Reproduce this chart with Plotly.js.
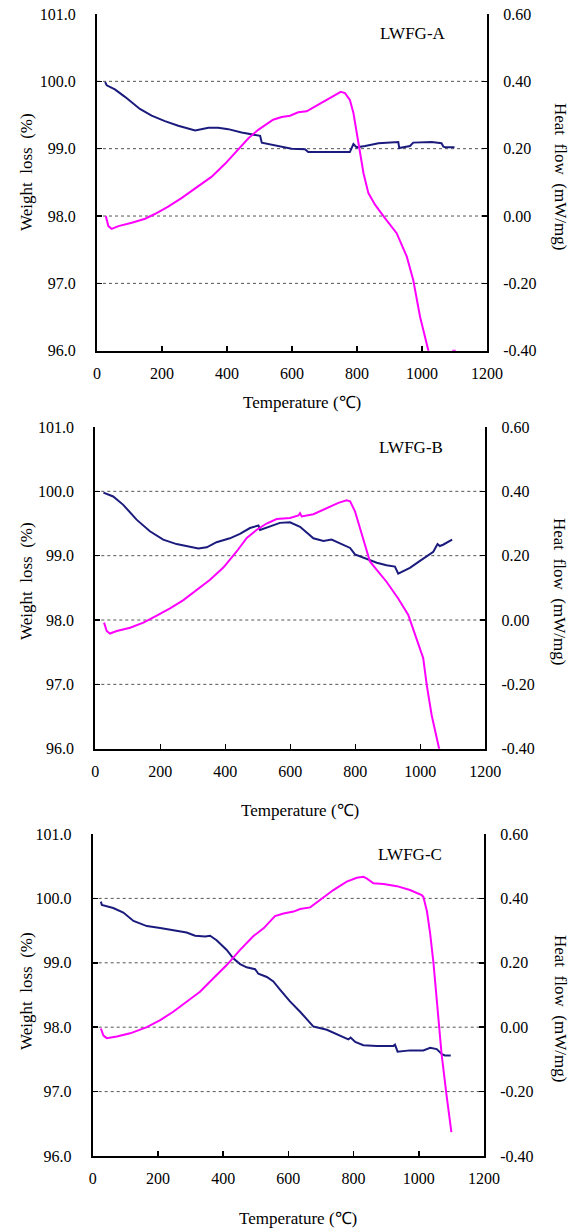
<!DOCTYPE html>
<html>
<head>
<meta charset="utf-8">
<script src="https://cdn.plot.ly/plotly-3.0.1.min.js"></script>
<style>html,body{margin:0;padding:0;background:#fff;}#chart{width:578px;height:1230px;}</style>
</head>
<body>
<div id="chart"></div>
<script>
// ---------- data (temperature in °C, weight in %, heat flow in mW/mg) ----------
var panelNames = ["LWFG-A", "LWFG-B", "LWFG-C"];

var tempA_w = [25, 30, 55, 86, 132, 168, 209, 250, 302, 312, 343, 373, 404, 445, 476, 502, 507, 537, 568, 599, 640, 650, 702, 778, 789, 799, 825, 866, 927, 930, 963, 973, 1030, 1060, 1066, 1072, 1100];
var weightA = [99.99, 99.94, 99.88, 99.77, 99.59, 99.49, 99.41, 99.34, 99.27, 99.28, 99.31, 99.31, 99.29, 99.24, 99.21, 99.19, 99.09, 99.06, 99.02, 99.00, 98.99, 98.95, 98.95, 98.95, 99.07, 99.02, 99.04, 99.08, 99.10, 99.01, 99.04, 99.09, 99.10, 99.08, 99.03, 99.02, 99.02];
var tempA_h = [27, 35, 45, 66, 107, 148, 178, 219, 260, 312, 353, 394, 435, 466, 496, 527, 542, 568, 594, 619, 645, 681, 722, 750, 763, 778, 789, 799, 809, 820, 835, 856, 886, 922, 953, 973, 994, 1019, 1035, 1092, 1096, 1104];
var heatA = [0.00, -0.03, -0.038, -0.03, -0.02, -0.008, 0.006, 0.028, 0.053, 0.088, 0.117, 0.155, 0.197, 0.231, 0.256, 0.278, 0.286, 0.294, 0.298, 0.308, 0.311, 0.331, 0.353, 0.369, 0.365, 0.345, 0.306, 0.246, 0.187, 0.127, 0.068, 0.033, -0.006, -0.051, -0.12, -0.19, -0.299, -0.40, -0.46, -0.46, -0.40, -0.40];

var tempB_w = [25, 55, 86, 127, 168, 209, 250, 291, 317, 343, 373, 414, 445, 476, 502, 507, 537, 568, 599, 630, 671, 702, 727, 753, 784, 799, 835, 866, 896, 922, 932, 968, 999, 1040, 1053, 1060, 1070, 1098];
var weightB = [99.98, 99.92, 99.79, 99.56, 99.38, 99.25, 99.18, 99.13, 99.11, 99.13, 99.21, 99.27, 99.34, 99.43, 99.47, 99.40, 99.45, 99.51, 99.52, 99.45, 99.27, 99.23, 99.25, 99.19, 99.12, 99.02, 98.95, 98.89, 98.85, 98.83, 98.72, 98.81, 98.92, 99.06, 99.18, 99.15, 99.17, 99.25];
var tempB_h = [27, 35, 45, 66, 107, 148, 189, 230, 271, 312, 353, 394, 435, 466, 496, 527, 558, 599, 625, 630, 635, 671, 712, 748, 773, 784, 799, 814, 830, 845, 866, 896, 932, 963, 989, 1009, 1020, 1035, 1058, 1065];
var heatB = [-0.008, -0.034, -0.042, -0.034, -0.024, -0.008, 0.014, 0.036, 0.062, 0.094, 0.125, 0.163, 0.213, 0.255, 0.28, 0.30, 0.314, 0.317, 0.325, 0.332, 0.322, 0.329, 0.348, 0.364, 0.372, 0.369, 0.338, 0.286, 0.229, 0.182, 0.156, 0.119, 0.067, 0.016, -0.06, -0.119, -0.203, -0.296, -0.40, -0.43];

var tempC_w = [25, 28, 63, 94, 125, 166, 207, 247, 288, 314, 345, 360, 380, 411, 431, 452, 472, 498, 508, 534, 554, 575, 605, 636, 677, 718, 759, 784, 791, 805, 830, 871, 922, 927, 935, 973, 1014, 1035, 1055, 1071, 1080, 1098];
var weightC = [99.95, 99.90, 99.85, 99.78, 99.65, 99.57, 99.54, 99.51, 99.47, 99.42, 99.41, 99.42, 99.35, 99.20, 99.07, 98.98, 98.93, 98.90, 98.83, 98.78, 98.71, 98.58, 98.40, 98.24, 98.01, 97.96, 97.86, 97.81, 97.84, 97.77, 97.72, 97.71, 97.71, 97.73, 97.62, 97.64, 97.64, 97.68, 97.66, 97.58, 97.56, 97.56];
var tempC_h = [25, 33, 43, 74, 115, 166, 207, 247, 288, 329, 370, 411, 452, 493, 524, 559, 585, 616, 636, 667, 697, 738, 779, 810, 830, 840, 861, 892, 933, 973, 1009, 1014, 1025, 1035, 1045, 1055, 1062, 1070, 1085, 1100];
var heatC = [-0.004, -0.026, -0.034, -0.029, -0.019, 0.0, 0.022, 0.048, 0.079, 0.11, 0.152, 0.193, 0.24, 0.283, 0.307, 0.345, 0.353, 0.359, 0.367, 0.372, 0.395, 0.426, 0.452, 0.464, 0.467, 0.462, 0.447, 0.445, 0.438, 0.426, 0.41, 0.405, 0.36, 0.29, 0.20, 0.08, -0.01, -0.084, -0.21, -0.326];

var xTicks = [0, 200, 400, 600, 800, 1000, 1200];
var weightTicks = [96, 97, 98, 99, 100, 101];
var weightTickText = ["96.0", "97.0", "98.0", "99.0", "100.0", "101.0"];
var heatTicks = [-0.4, -0.2, 0, 0.2, 0.4, 0.6];
var heatTickText = ["-0.40", "-0.20", "0.00", "0.20", "0.40", "0.60"];
var gridValues = [97, 98, 99, 100];

var xTitle = "Temperature (\u2103)";
var yLeftTitle = "Weight  loss  (%)";
var yRightTitle = "Heat  flow  (mW/mg)";

// ---------- layout geometry (pixels) ----------
var W = 578, H = 1230;
var FONT = "Liberation Serif, 'Times New Roman', serif";
var panels = [
  {tw: tempA_w, w: weightA, th: tempA_h, h: heatA, x0: 97, x1: 487, y0: 14, y1: 350.7, xt: 402, yl: 172, yr: 176, lab: [378, 34]},
  {tw: tempB_w, w: weightB, th: tempB_h, h: heatB, x0: 95.3, x1: 485.3, y0: 427, y1: 748.7, xt: 810, yl: 581, yr: 591, lab: [377, 447]},
  {tw: tempC_w, w: weightC, th: tempC_h, h: heatC, x0: 92.7, x1: 484, y0: 834, y1: 1156, xt: 1218, yl: 991, yr: 1008, lab: [376, 854]}
];
function px(x) { return x / W; }
function py(y) { return 1 - y / H; }

var traces = [], shapes = [], annotations = [];
var layout = {
  width: W, height: H, margin: {l: 0, r: 0, t: 0, b: 0},
  paper_bgcolor: "#fff", plot_bgcolor: "#fff", showlegend: false,
  font: {family: FONT, size: 16, color: "#000"}
};

panels.forEach(function (p, i) {
  var xn = i === 0 ? "" : String(i + 1);
  var yl = 2 * i + 1, yr = 2 * i + 2;
  var ylName = yl === 1 ? "" : String(yl);
  var yrName = String(yr);
  var axBase = {
    showline: true, linecolor: "#000", linewidth: 2, ticks: "inside", ticklen: 5,
    tickwidth: 1.5, tickcolor: "#000", showgrid: false, zeroline: false,
    tickfont: {family: FONT, size: 16, color: "#000"}, layer: "below traces", fixedrange: true
  };
  layout["xaxis" + xn] = Object.assign({}, axBase, {
    domain: [px(p.x0), px(p.x1)], anchor: "y" + ylName, range: [0, 1200],
    tickmode: "array", tickvals: xTicks, ticktext: xTicks.map(String), ticklabelstandoff: 7
  });
  layout["yaxis" + ylName] = Object.assign({}, axBase, {
    domain: [py(p.y1), py(p.y0)], anchor: "x" + xn, range: [96, 101],
    tickmode: "array", tickvals: weightTicks, ticktext: weightTickText, ticklabelstandoff: 16
  });
  layout["yaxis" + yrName] = Object.assign({}, axBase, {
    overlaying: "y" + ylName, side: "right", anchor: "x" + xn, range: [-0.4, 0.6],
    tickmode: "array", tickvals: heatTicks, ticktext: heatTickText, ticklabelstandoff: 11
  });
  traces.push({
    type: "scatter", mode: "lines", x: p.tw, y: p.w, xaxis: "x" + xn, yaxis: "y" + ylName,
    line: {color: "#1b1b7e", width: 2}, name: "Weight loss " + panelNames[i]
  });
  traces.push({
    type: "scatter", mode: "lines", x: p.th, y: p.h, xaxis: "x" + xn, yaxis: "y" + yrName,
    line: {color: "#ff00ff", width: 2}, name: "Heat flow " + panelNames[i]
  });
  gridValues.forEach(function (g) {
    shapes.push({type: "line", xref: "x" + xn + " domain", x0: 0, x1: 1, yref: "y" + ylName, y0: g, y1: g,
      line: {color: "#555", width: 1, dash: "dot"}, layer: "below"});
  });
  annotations.push({xref: "paper", yref: "paper", x: px(p.lab[0]), y: py(p.lab[1]), xanchor: "left", yanchor: "middle",
    text: panelNames[i], showarrow: false, font: {family: FONT, size: 17, color: "#000"}});
  annotations.push({xref: "paper", yref: "paper", x: px((p.x0 + p.x1) / 2 + 10), y: py(p.xt), xanchor: "center", yanchor: "middle",
    text: xTitle, showarrow: false, font: {family: FONT, size: 17, color: "#000"}});
  annotations.push({xref: "paper", yref: "paper", x: px(26), y: py(p.yl), xanchor: "center", yanchor: "middle",
    text: yLeftTitle, textangle: -90, showarrow: false, font: {family: FONT, size: 17, color: "#000"}});
  annotations.push({xref: "paper", yref: "paper", x: px(560), y: py(p.yr), xanchor: "center", yanchor: "middle",
    text: yRightTitle, textangle: 90, showarrow: false, font: {family: FONT, size: 17, color: "#000"}});
});
layout.shapes = shapes;
layout.annotations = annotations;

Plotly.newPlot("chart", traces, layout, {staticPlot: true, displayModeBar: false});
</script>
</body>
</html>
